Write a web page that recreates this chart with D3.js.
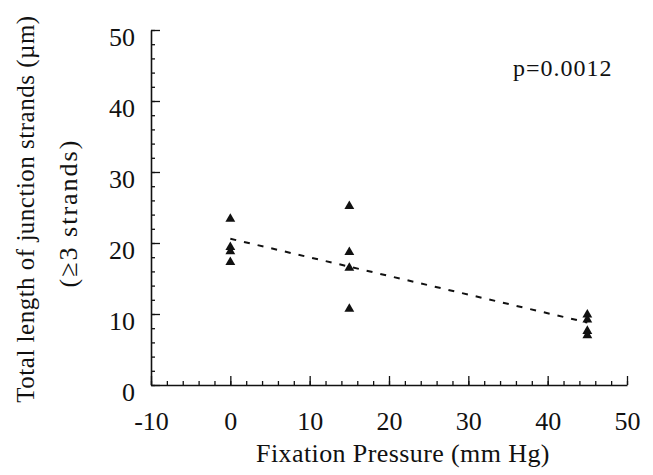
<!DOCTYPE html>
<html>
<head>
<meta charset="utf-8">
<script src="https://cdn.jsdelivr.net/npm/d3@7"></script>
<style>
  html, body { margin: 0; padding: 0; background: #fff; }
  svg { display: block; }
  text { font-family: "Liberation Serif", "Times New Roman", serif; fill: #111; }
</style>
</head>
<body>
<script>
// values
const pressures = [0, 15, 45];
const lengthsAt0 = [23.4, 19.4, 18.8, 17.3];
const lengthsAt15 = [25.2, 18.7, 16.5, 10.7];
const lengthsAt45 = [9.9, 9.2, 7.6, 7.0];
const fitLine = [[0, 20.6], [45, 8.8]];
const xTicks = [-10, 0, 10, 20, 30, 40, 50];
const yTicks = [0, 10, 20, 30, 40, 50];
const pLabel = 'p=0.0012';

const w = 653;
const h = 475;

const points = [lengthsAt0, lengthsAt15, lengthsAt45]
  .flatMap((ys, i) => ys.map(v => [pressures[i], v]));

const svg = d3.select('body')
  .append('svg')
    .attr('width', w)
    .attr('height', h);

const xScale = d3.scaleLinear().domain([-10, 50]).range([151, 627]);
const yScale = d3.scaleLinear().domain([0, 50]).range([385, 30]);

// minor ticks every 2 units
svg.append('g')
    .attr('transform', `translate(${xScale(-10)},0)`)
  .call(d3.axisLeft(yScale).tickValues(d3.range(0, 51, 2)).tickSize(-4).tickFormat(''))
  .call(g => g.select('.domain').remove());

svg.append('g')
    .attr('transform', `translate(0,${yScale(0)})`)
  .call(d3.axisBottom(xScale).tickValues(d3.range(-10, 51, 2)).tickSize(-4).tickFormat(''))
  .call(g => g.select('.domain').remove());

const yAxis = svg.append('g')
    .attr('transform', `translate(${xScale(-10)},0)`)
  .call(d3.axisLeft(yScale).tickValues(yTicks).tickSize(-9).tickSizeOuter(0).tickPadding(16));

const xAxis = svg.append('g')
    .attr('transform', `translate(0,${yScale(0)})`)
  .call(d3.axisBottom(xScale).tickValues(xTicks).tickSize(-9).tickSizeOuter(0).tickPadding(27)
    .tickFormat(d => (d < 0 ? '-' + Math.abs(d) : d)));

svg.selectAll('.tick line').attr('stroke', '#111').attr('stroke-width', 1.3);
svg.selectAll('.domain').attr('stroke', '#111').attr('stroke-width', 1.6);

[yAxis, xAxis].forEach(g => g
  .attr('font-family', null)
  .attr('font-size', null)
  .selectAll('text')
    .style('font-size', '26px'));

yAxis.selectAll('text').attr('dy', '0.58em');

// regression line
svg.append('path')
    .datum(fitLine)
    .attr('d', d3.line().x(d => xScale(d[0])).y(d => yScale(d[1])))
    .attr('fill', 'none')
    .attr('stroke', '#111')
    .attr('stroke-width', 2)
    .attr('stroke-dasharray', '6 8');

svg.selectAll('.pt')
  .data(points)
  .enter()
  .append('path')
    .attr('class', 'pt')
    .attr('transform', d => `translate(${xScale(d[0])},${yScale(d[1])})`)
    .attr('d', d3.symbol(d3.symbolTriangle, 42))
    .attr('fill', '#111');

svg.append('text')
    .attr('x', 513)
    .attr('y', 76)
    .style('font-size', '24px')
    .style('letter-spacing', '1px')
    .text(pLabel);

svg.append('text')
    .attr('x', 403)
    .attr('y', 462)
    .attr('text-anchor', 'middle')
    .style('font-size', '26px')
    .style('letter-spacing', '0.4px')
    .text('Fixation Pressure (mm Hg)');

svg.append('text')
    .attr('transform', 'translate(34,209) rotate(-90)')
    .attr('text-anchor', 'middle')
    .style('font-size', '25px')
    .style('letter-spacing', '0.5px')
    .text('Total length of junction strands (µm)');

svg.append('text')
    .attr('transform', 'translate(77,213) rotate(-90)')
    .attr('text-anchor', 'middle')
    .style('font-size', '26px')
    .style('letter-spacing', '2px')
    .text('(≥3 strands)');
</script>
</body>
</html>
